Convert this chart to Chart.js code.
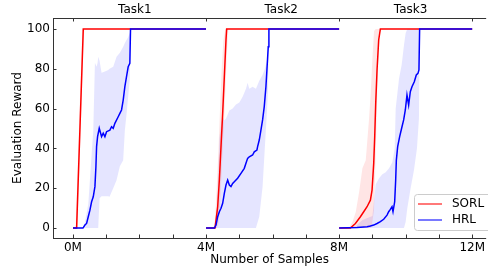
<!DOCTYPE html>
<html>
<head>
<meta charset="utf-8">
<script src="https://cdn.jsdelivr.net/npm/chart.js@4.4.0/dist/chart.umd.min.js"></script>
<style>
  html, body { margin: 0; padding: 0; background: #fff; }
  #wrap { width: 488px; height: 271px; }
</style>
</head>
<body>
<div id="wrap"><canvas id="rewardChart" width="488" height="271"></canvas></div>
<script>
// x in millions of samples, y = evaluation reward

const taskTitles = ['Task1', 'Task2', 'Task3'];
const taskTitleX = [1.86, 6.26, 10.15];

const xTickVals = [0, 4, 8, 12];
const xMinorVals = [0, 1, 2, 3, 4, 5, 6, 7, 8, 9, 10, 11, 12];
const yTickVals = [0, 20, 40, 60, 80, 100];

const methods = ['SORL', 'HRL'];
const COLORS = { SORL: '#ff0000', HRL: '#0000ff' };
const BAND = { SORL: 'rgba(255,0,0,0.1)', HRL: 'rgba(0,0,255,0.1)' };

// SORL mean curves [x, y]
const sorlMean1 = [[0, 0], [0.11, 0], [0.31, 100], [4, 100]];
const sorlMean2 = [[4, 0], [4.27, 0], [4.35, 10.7], [4.4, 24], [4.45, 41], [4.5, 57.6],
  [4.55, 76], [4.6, 94.5], [4.62, 100], [8, 100]];
const sorlMean3 = [[8, 0], [8.34, 0], [8.49, 2.3], [8.64, 5.7], [8.74, 8.2], [8.84, 10.7],
  [8.94, 14], [8.99, 19], [9.04, 32.5], [9.07, 46], [9.1, 62.6], [9.14, 79.4],
  [9.19, 94.5], [9.24, 100], [12, 100]];

// SORL bands [x, low, high]
const sorlBand1 = [[0, 0, 0], [0.08, 0, 0], [0.11, 0, 15], [0.14, 0, 30], [0.28, 75, 100],
  [0.31, 90, 100], [0.34, 100, 100], [4, 100, 100]];
const sorlBand2 = [[4, 0, 0], [4.22, 0, 0], [4.27, 0, 4], [4.32, 0, 20], [4.37, 2, 38],
  [4.42, 10, 60], [4.47, 28, 80], [4.52, 46, 94], [4.58, 68, 100], [4.62, 85, 100],
  [4.67, 100, 100], [8, 100, 100]];
const sorlBand3 = [[8, 0, 0], [8.3, 0, 0], [8.4, 0, 3], [8.5, 0, 8], [8.6, 0, 18],
  [8.7, 0, 30], [8.8, 0, 34], [8.9, 0, 55], [8.95, 0, 68], [9.0, 3, 85], [9.05, 9, 99],
  [9.1, 37, 100], [9.15, 70, 100], [9.2, 95, 100], [9.25, 100, 100], [12, 100, 100]];

// HRL mean curves [x, y]
const hrlMean1 = [[0, 0], [0.3, 0], [0.36, 1.5], [0.41, 2.3], [0.46, 5.7], [0.51, 9],
  [0.56, 13.2], [0.61, 15.7], [0.66, 20.8], [0.69, 30.8], [0.71, 40.9], [0.74, 45.9],
  [0.79, 50.1], [0.86, 45.9], [0.91, 47.6], [0.96, 45.9], [1.01, 48.4], [1.11, 49.2],
  [1.16, 50.9], [1.21, 50.1], [1.26, 52.6], [1.36, 55.9], [1.41, 57.6], [1.46, 59.3],
  [1.51, 64.3], [1.56, 71], [1.61, 76], [1.66, 81], [1.71, 82.7], [1.73, 100], [4, 100]];
const hrlMean2 = [[4, 0], [4.25, 0], [4.3, 1.5], [4.35, 5.7], [4.4, 8.2], [4.45, 9.9],
  [4.5, 12.4], [4.55, 17.4], [4.6, 21.6], [4.65, 24.1], [4.7, 21.6], [4.75, 20.8],
  [4.8, 22.4], [4.85, 23.3], [4.95, 25], [5.05, 27.5], [5.15, 30], [5.2, 32.5],
  [5.25, 35], [5.3, 35.8], [5.4, 36.7], [5.45, 38.3], [5.53, 39.2], [5.55, 40.9],
  [5.6, 44.2], [5.65, 49.2], [5.7, 54.3], [5.75, 61], [5.8, 71], [5.83, 79.4],
  [5.87, 91], [5.89, 100], [8, 100]];
const hrlMean3 = [[8, 0], [8.54, 0.3], [8.84, 0.7], [8.94, 1], [9.04, 1.5], [9.14, 2.3],
  [9.24, 3.2], [9.34, 4.4], [9.44, 6.5], [9.49, 8.2], [9.54, 9.4], [9.59, 10.7],
  [9.62, 8.2], [9.67, 13.2], [9.7, 24], [9.72, 34], [9.76, 40.9], [9.82, 45.9],
  [9.89, 50.9], [9.94, 54.3], [9.99, 59.3], [10.04, 66.8], [10.09, 61.8], [10.14, 68.5],
  [10.19, 71], [10.26, 73.5], [10.32, 76.9], [10.37, 77.7], [10.4, 79.4], [10.42, 100],
  [12, 100]];

// HRL bands [x, low, high]
const hrlBand1 = [[0, 0, 0], [0.3, 0, 0], [0.36, 0, 3], [0.46, 0, 12], [0.56, 0, 37],
  [0.61, 0, 49], [0.66, 0, 83], [0.71, 0, 81], [0.74, 0, 83], [0.76, 0, 86], [0.8, 15, 84],
  [0.86, 16, 78], [0.96, 16, 78.6], [1.06, 16, 79.4], [1.1, 15.7, 80], [1.21, 20, 81],
  [1.31, 24, 86], [1.41, 31, 88], [1.51, 34, 91], [1.56, 49, 93], [1.61, 57, 94.5],
  [1.66, 66, 96], [1.71, 75, 98], [1.73, 100, 100], [4, 100, 100]];
const hrlBand2 = [[4, 0, 0], [4.25, 0, 0], [4.3, 0, 3], [4.35, 0, 20], [4.4, 0, 45],
  [4.45, 0, 52], [4.5, 0, 56], [4.55, 0, 54], [4.6, 0, 55], [4.7, 0, 59], [4.8, 0, 60],
  [4.9, 0, 62], [5.0, 0, 63], [5.1, 0, 66], [5.2, 0, 70], [5.25, 0, 73], [5.3, 0, 70],
  [5.4, 0, 71], [5.5, 0, 70], [5.6, 5.7, 74], [5.7, 20.7, 77], [5.77, 41, 80],
  [5.83, 58, 84], [5.86, 68, 95], [5.89, 100, 100], [8, 100, 100]];
const hrlBand3 = [[8, 0, 0], [8.5, 0, 1], [8.7, 0, 4], [9.0, 0, 6], [9.1, 0, 22],
  [9.2, 0, 25], [9.3, 0, 27], [9.4, 0, 28], [9.5, 0, 30], [9.6, 0, 33], [9.67, 0, 40],
  [9.7, 0, 60], [9.8, 0, 75], [9.88, 0, 82], [9.95, 0, 92], [10.0, 3, 98],
  [10.05, 10, 100], [10.15, 20, 100], [10.25, 29, 100], [10.34, 40, 100],
  [10.4, 55, 100], [10.42, 100, 100], [12, 100, 100]];

const meanSets = { SORL: [sorlMean1, sorlMean2, sorlMean3], HRL: [hrlMean1, hrlMean2, hrlMean3] };
const bandSets = { SORL: [sorlBand1, sorlBand2, sorlBand3], HRL: [hrlBand1, hrlBand2, hrlBand3] };

const FONT = { family: 'DejaVu Sans', size: 12 };

function buildDatasets() {
  const ds = [];
  methods.forEach(m => {
    bandSets[m].forEach(band => {
      const hiIdx = ds.length;
      ds.push({
        data: band.map(p => ({ x: p[0], y: p[2] })),
        borderWidth: 0, pointRadius: 0, fill: false, order: 10,
        backgroundColor: BAND[m],
      });
      ds.push({
        data: band.map(p => ({ x: p[0], y: p[1] })),
        borderWidth: 0, pointRadius: 0, fill: hiIdx, order: 10,
        backgroundColor: BAND[m],
      });
    });
  });
  methods.forEach(m => {
    meanSets[m].forEach(curve => {
      ds.push({
        label: m,
        data: curve.map(p => ({ x: p[0], y: p[1] })),
        borderColor: COLORS[m], borderWidth: 1.5, pointRadius: 0, fill: false,
        order: m === 'HRL' ? 1 : 5,
      });
    });
  });
  return ds;
}

// spines, inward ticks, task titles and the legend box
const decor = {
  id: 'decor',
  afterDraw(chart) {
    const { ctx, chartArea: a, scales: { x, y } } = chart;
    ctx.save();
    ctx.strokeStyle = '#333';
    ctx.lineWidth = 1;
    ctx.beginPath();
    ctx.moveTo(a.left + 0.5, a.top); ctx.lineTo(a.left + 0.5, a.bottom);
    ctx.moveTo(a.left, a.bottom + 0.5); ctx.lineTo(a.right, a.bottom + 0.5);
    ctx.moveTo(a.left, a.top + 0.5); ctx.lineTo(a.right, a.top + 0.5);
    xMinorVals.forEach(v => {
      const px = Math.round(x.getPixelForValue(v)) + 0.5;
      ctx.moveTo(px, a.bottom); ctx.lineTo(px, a.bottom - 3.5);
    });
    xTickVals.forEach(v => {
      const px = Math.round(x.getPixelForValue(v)) + 0.5;
      ctx.moveTo(px, a.top); ctx.lineTo(px, a.top + 3.5);
    });
    yTickVals.forEach(v => {
      const py = Math.round(y.getPixelForValue(v)) + 0.5;
      ctx.moveTo(a.left, py); ctx.lineTo(a.left + 3.5, py);
    });
    ctx.stroke();

    ctx.fillStyle = '#000';
    ctx.font = '12px "DejaVu Sans"';
    ctx.textAlign = 'center';
    ctx.textBaseline = 'middle';
    taskTitles.forEach((t, i) => ctx.fillText(t, x.getPixelForValue(taskTitleX[i]), 10));

    // legend, lower right inside the axes
    const lx = 414, ly = 194, lw = 80, lh = 36;
    ctx.beginPath();
    ctx.roundRect(lx + 0.5, ly + 0.5, lw, lh, 3);
    ctx.fillStyle = 'rgba(255,255,255,0.8)';
    ctx.fill();
    ctx.strokeStyle = '#cccccc';
    ctx.stroke();
    methods.forEach((m, i) => {
      const yy = ly + 10 + i * 16;
      ctx.strokeStyle = COLORS[m];
      ctx.globalAlpha = 0.7;
      ctx.lineWidth = 1.5;
      ctx.beginPath();
      ctx.moveTo(lx + 4, yy); ctx.lineTo(lx + 28, yy);
      ctx.stroke();
      ctx.globalAlpha = 1;
      ctx.fillStyle = '#000';
      ctx.textAlign = 'left';
      ctx.fillText(m, lx + 38, yy);
    });
    ctx.restore();
  }
};

new Chart(document.getElementById('rewardChart'), {
  type: 'line',
  data: { datasets: buildDatasets() },
  options: {
    responsive: false,
    animation: false,
    layout: { padding: { top: 18, right: 0, left: 0, bottom: 0 } },
    plugins: { legend: { display: false }, tooltip: { enabled: false } },
    scales: {
      x: {
        type: 'linear', min: -0.6, max: 12.42,
        grid: { display: false, drawTicks: false },
        border: { display: false },
        afterBuildTicks: s => { s.ticks = xTickVals.map(v => ({ value: v })); },
        afterFit: s => { s.height = 33; },
        ticks: { color: '#000', font: FONT, padding: 3, maxRotation: 0, callback: v => v + 'M' },
        title: { display: true, text: 'Number of Samples', color: '#000', font: FONT, padding: { top: 0, bottom: 4 } },
      },
      y: {
        min: -5, max: 105.5,
        grid: { display: false, drawTicks: false },
        border: { display: false },
        afterBuildTicks: s => { s.ticks = yTickVals.map(v => ({ value: v })); },
        afterFit: s => { s.width = 53; },
        ticks: { color: '#000', font: FONT, padding: 3 },
        title: { display: true, text: 'Evaluation Reward', color: '#000', font: FONT, padding: { top: 11, bottom: 0 } },
      },
    },
  },
  plugins: [decor],
});
</script>
</body>
</html>
